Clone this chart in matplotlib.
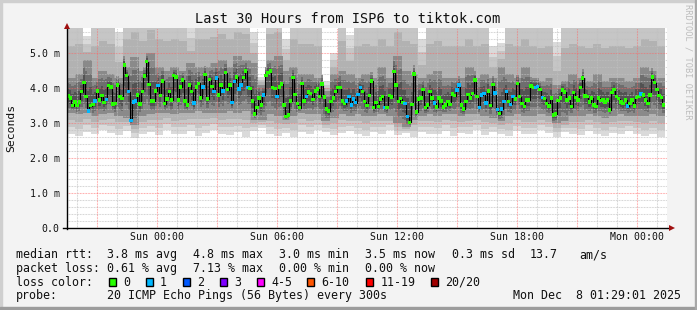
import numpy as np
import matplotlib
matplotlib.use("Agg")
import matplotlib.pyplot as plt
from matplotlib.patches import Rectangle
from matplotlib.lines import Line2D

W, H = 697, 310
MONO = "DejaVu Sans Mono"

# time axis in hours relative to Sun 00:00
x_left, x_right = -4.485, 25.515
data_end = 25.40  # last sample before Mon 01:29

# median rtt (ms), left to right
med_a = [3.77, 3.72, 3.50, 3.60, 3.50, 3.60, 3.90, 4.15, 3.75, 3.34,
         3.50, 3.53, 3.63, 3.91, 3.66, 3.78, 3.58, 3.67, 4.07, 4.03,
         3.54, 3.55, 4.09, 3.75, 3.70, 4.66, 4.35, 3.90, 3.07, 3.60]
med_b = [3.63, 3.80, 3.54, 3.90, 4.34, 4.75, 4.10, 3.63, 3.63, 3.91,
         4.07, 3.78, 4.20, 3.55, 3.69, 3.90, 3.66, 4.35, 4.31, 3.66,
         4.03, 4.23, 3.63, 3.51, 4.09, 3.90, 3.57, 4.03, 4.13, 3.72,
         4.03, 4.39, 3.69, 4.24]
med_c = [4.04, 3.90, 4.28, 3.80, 4.09, 3.91, 4.44, 3.95, 4.09, 3.58,
         4.18, 4.31, 3.97, 4.09, 4.30, 4.49, 4.01, 3.99, 3.63, 3.26,
         3.44, 3.72, 3.51, 3.80, 4.35, 4.45, 4.49, 4.01, 3.99, 3.75,
         4.03, 4.12, 3.51, 3.18]
med_d = [3.23, 3.63, 4.30, 3.82, 3.55, 3.44, 4.13, 3.63, 3.76, 3.88,
         3.84, 3.67, 3.91, 3.97, 3.76, 4.12, 3.74, 3.40, 3.34, 3.61,
         3.72, 3.90, 4.01, 4.01, 3.63, 3.55, 3.63, 3.75, 3.51, 3.69,
         3.58, 3.82, 4.01, 3.90]
med_e = [3.61, 3.50, 3.78, 4.20, 3.44, 3.59, 3.47, 3.69, 3.76, 3.44,
         3.44, 3.78, 3.74, 4.47, 4.09, 3.61, 3.70, 3.59, 3.55, 3.18,
         3.02, 3.53, 4.40, 3.32, 3.69, 3.72, 3.96, 3.44, 3.51, 3.90,
         3.72, 3.57, 3.46, 3.72]
med_f = [3.63, 3.46, 3.51, 3.61, 3.53, 3.83, 3.78, 3.94, 4.09, 3.51,
         3.40, 3.61, 3.82, 3.72, 3.85, 4.23, 3.75, 3.44, 3.80, 3.85,
         3.57, 3.91, 3.50, 4.10, 3.86, 3.39, 3.27, 3.40, 3.61, 3.90,
         3.61, 3.53, 3.75, 3.69]
med_g = [4.13, 3.75, 3.56, 3.47, 3.66, 3.66, 4.06, 4.02, 4.02, 4.04,
         3.96, 3.73, 3.70, 3.56, 3.49, 3.71, 3.23, 3.26, 3.64, 3.71,
         3.94, 3.88, 3.66, 3.71, 3.47, 3.87, 3.73, 3.66, 4.02, 4.28,
         3.77, 3.75, 3.60, 3.71, 3.52, 3.47, 3.71, 3.64, 3.66, 3.60,
         3.66, 3.37, 3.87, 3.96, 3.75, 3.70, 3.60, 3.56, 3.66, 3.49,
         3.56, 3.66, 3.49, 3.73, 3.75, 3.83, 3.80, 3.66, 3.56, 3.80,
         4.32, 4.15, 3.96, 3.79, 3.73, 3.52]

# points in each block where 1 of 20 pings was lost
lost1_a = [9, 12, 17, 27, 28, 29]
lost1_b = [0, 10, 26, 30]
lost1_c = [1, 2, 5, 9, 10, 12, 13, 16, 23, 29]
lost1_d = [8, 26, 27, 28, 29, 30, 31, 32]
lost1_e = [9, 18, 19, 31]
lost1_f = [7, 8, 17, 18, 19, 20, 24, 25, 27, 28, 29, 31, 32]
lost1_g = [8, 9, 11, 49, 55]

# smoke (ping spread), 75 columns of 24 minutes
smoke_hi = [7.0, 7.0, 5.5, 7.0, 7.0, 7.0, 5.6, 7.0, 7.0, 7.0,
            7.0, 7.0, 7.0, 7.0, 7.0, 5.8, 7.0, 7.0, 7.0, 7.0,
            7.0, 7.0, 7.0, 5.6, 4.3, 7.0, 7.0, 5.4, 7.0, 7.0,
            7.0, 7.0, 4.2, 5.0, 7.0, 5.5, 7.0, 7.0, 7.0, 7.0,
            7.0, 7.0, 7.0, 7.0, 5.4, 7.0, 7.0, 7.0, 7.0, 7.0,
            7.0, 7.0, 7.0, 5.2, 5.3, 7.0, 7.0, 7.0, 7.0, 7.0,
            7.0, 5.3, 7.0, 7.0, 7.0, 7.0, 7.0, 7.0, 7.0, 7.0,
            7.0, 7.0, 7.0, 7.0, 7.0]
smoke_in_hi = [4.3, 4.4, 4.8, 4.3, 4.5, 4.4, 4.3, 4.6, 4.9, 4.5,
               5.0, 4.6, 4.5, 4.6, 4.5, 4.7, 4.6, 4.6, 4.7, 4.8,
               4.6, 4.9, 4.8, 4.7, 4.1, 4.8, 4.9, 4.5, 4.6, 4.4,
               4.4, 4.3, 3.9, 4.4, 4.5, 4.4, 4.3, 4.4, 4.3, 4.6,
               4.3, 4.9, 4.5, 4.4, 4.3, 4.4, 4.5, 4.3, 4.3, 4.3,
               4.6, 4.3, 4.4, 4.3, 4.6, 4.4, 4.3, 4.6, 4.3, 4.2,
               4.3, 4.1, 4.2, 4.4, 4.3, 4.2, 4.4, 4.2, 4.3, 4.3,
               4.2, 4.3, 4.6, 4.5, 4.3]
smoke_in_lo = [3.30, 3.25, 3.30, 3.20, 3.25, 3.30, 3.20, 3.15, 2.95, 3.20,
               3.25, 3.30, 3.30, 3.25, 3.30, 3.30, 3.35, 3.30, 3.30, 3.30,
               3.35, 3.30, 3.35, 3.10, 3.10, 3.25, 3.20, 3.10, 3.20, 3.30,
               3.25, 3.25, 3.05, 3.15, 3.25, 3.20, 3.25, 3.20, 3.20, 3.25,
               3.20, 3.00, 2.90, 3.10, 3.20, 3.25, 3.20, 3.25, 3.25, 3.20,
               3.25, 3.25, 3.20, 3.15, 3.05, 3.20, 3.25, 3.20, 3.20, 3.25,
               3.20, 3.00, 3.05, 3.20, 3.20, 3.25, 3.20, 3.15, 3.20, 3.25,
               3.20, 3.20, 3.20, 3.25, 3.20]
smoke_lo = [2.70, 2.62, 2.75, 2.68, 2.80, 2.72, 2.66, 2.78, 2.58, 2.70,
            2.74, 2.65, 2.80, 2.70, 2.68, 2.76, 2.62, 2.72, 2.80, 2.70,
            2.66, 2.74, 2.60, 2.78, 2.85, 2.70, 2.64, 2.72, 2.60, 2.75,
            2.70, 2.80, 2.74, 2.66, 2.72, 2.78, 2.68, 2.62, 2.74, 2.70,
            2.80, 2.66, 2.72, 2.60, 2.75, 2.70, 2.68, 2.78, 2.64, 2.72,
            2.70, 2.80, 2.66, 2.74, 2.70, 2.62, 2.76, 2.70, 2.68, 2.80,
            2.72, 2.60, 2.74, 2.70, 2.66, 2.78, 2.70, 2.64, 2.72, 2.68,
            2.76, 2.70, 2.62, 2.68, 2.60]

loss_colors = ["#26ff00", "#00b8ff", "#0059ff", "#7e00ff", "#ff00ff",
               "#ff5500", "#ff0000", "#a10000"]
loss_labels = ["0", "1", "2", "3", "4-5", "6-10", "11-19", "20/20"]

blocks = [(med_a, lost1_a), (med_b, lost1_b), (med_c, lost1_c), (med_d, lost1_d),
          (med_e, lost1_e), (med_f, lost1_f), (med_g, lost1_g)]
median = []
lost = []
for vals, idx in blocks:
    lost += [1 if i in idx else 0 for i in range(len(vals))]
    median += vals
median = np.array(median)
n = len(median)
step = (data_end - x_left) / n
t = x_left + (np.arange(n) + 0.5) * step


def fx(x):
    return x / W


def fy(y):
    return 1 - y / H


fig = plt.figure(figsize=(W / 100, H / 100), dpi=100, facecolor="#f3f3f3")
ax = fig.add_axes([fx(67), fy(228), 600 / W, 200 / H])
ax.set_facecolor("white")
ax.set_xlim(x_left, x_right)
ax.set_ylim(0, 200 / 35)
for s in ax.spines.values():
    s.set_visible(False)

# smoke: outer layers per 24 min column
ncol = len(smoke_hi)
edges = np.linspace(x_left, data_end, ncol + 1)
lo, ilo = np.array(smoke_lo), np.array(smoke_in_lo)
ihi, hi = np.array(smoke_in_hi), np.array(smoke_hi)
outer = ["#dadada", "#c6c6c6", "#b2b2b2", "#9f9f9f"]
for k, c in enumerate(outer):
    f = k / (len(outer) - 1)
    bot = lo + (ilo - lo) * f
    top = hi + (ihi - hi) * f
    ax.bar(edges[:-1], top - bot, bottom=bot, width=np.diff(edges), align="edge",
           color=c, linewidth=0, zorder=1)

# smoke: inner layers per sample, closing in on the median
col = np.minimum(((t - x_left) / (data_end - x_left) * ncol).astype(int), ncol - 1)
inner = ["#8a8a8a", "#6e6e6e", "#525252"]
upper = np.maximum(ihi[col], median + 0.25)
for k, c in enumerate(inner):
    g = k * 0.3
    bot = ilo[col] + (median - ilo[col]) * g
    top = upper + (median - upper) * g
    ax.bar(t - step / 2, top - bot, bottom=bot, width=step, align="edge",
           color=c, linewidth=0, zorder=1)

# grid
for v in np.arange(0.2, 5.75, 0.2):
    major = abs(v - round(v)) < 1e-6
    ax.axhline(v, color="#ff6464" if major else "#c0c0c0", alpha=0.65 if major else 0.8,
               lw=0.75, dashes=(0.75, 0.75), zorder=3)
for h in range(-4, 26):
    ax.axvline(h, color="#ff6464" if h % 3 == 0 else "#c0c0c0",
               alpha=0.65 if h % 3 == 0 else 0.8, lw=0.75, dashes=(0.75, 0.75), zorder=3)

# median
ax.step(t, median, where="mid", color="black", lw=0.8, zorder=4)
ax.scatter(t, median, marker="s", s=6, c=[loss_colors[l] for l in lost],
           linewidths=0, zorder=5)

ax.set_xticks([0, 6, 12, 18, 24],
              labels=["Sun 00:00", "Sun 06:00", "Sun 12:00", "Sun 18:00", "Mon 00:00"])
ax.set_yticks(range(6), labels=["0.0", "1.0 m", "2.0 m", "3.0 m", "4.0 m", "5.0 m"])
ax.tick_params(axis="x", length=0, pad=3.0, labelsize=7.1, labelcolor="#111111")
ax.tick_params(axis="y", length=0, pad=5.2, labelsize=7.1, labelcolor="#111111")
for lab in ax.get_xticklabels() + ax.get_yticklabels():
    lab.set_family(MONO)

# axes lines and arrows
fig.add_artist(Line2D([fx(67), fx(67)], [fy(229), fy(27)], color="black", lw=1,
                      transform=fig.transFigure))
fig.add_artist(Line2D([fx(63), fx(670)], [fy(228), fy(228)], color="black", lw=1,
                      transform=fig.transFigure))
fig.add_artist(Line2D([fx(67)], [fy(25.5)], marker="^", color="#a01010", markersize=4.5,
                      markeredgewidth=0, transform=fig.transFigure))
fig.add_artist(Line2D([fx(671.5)], [fy(228)], marker=">", color="#a01010", markersize=4.5,
                      markeredgewidth=0, transform=fig.transFigure))

# frame
fig.add_artist(Rectangle((0, fy(2)), 1, 2 / H, color="#cfcfcf", transform=fig.transFigure))
fig.add_artist(Rectangle((0, 0), 2 / W, 1, color="#cfcfcf", transform=fig.transFigure))
fig.add_artist(Rectangle((0, 0), 1, 3 / H, color="#9c9c9c", transform=fig.transFigure))
fig.add_artist(Rectangle((fx(695), 0), 2 / W, 1, color="#a8a8a8", transform=fig.transFigure))

# texts
fig.text(fx(347.5), fy(19), "Last 30 Hours from ISP6 to tiktok.com", ha="center", va="center",
         family=MONO, size=9.8, color="#111111")
fig.text(fx(11), fy(128), "Seconds", rotation=90, ha="center", va="center",
         family=MONO, size=8.2, color="#111111")
fig.text(fx(688), fy(4), "RRDTOOL / TOBI OETIKER", rotation=270, ha="center", va="top",
         family=MONO, size=6.2, color="#bdbdbd")

tk = dict(family=MONO, size=8.4, color="#111111", va="center", ha="left")
cols = [107, 193, 279, 365, 451.7]
fig.text(fx(16), fy(254.7), "median rtt:", **tk)
for x, s in zip(cols, ["3.8 ms avg", "4.8 ms max", "3.0 ms min", "3.5 ms now", "0.3 ms sd"]):
    fig.text(fx(x), fy(254.7), s, **tk)
fig.text(fx(530), fy(254.7), "13.7", **tk)
fig.text(fx(579), fy(254.7), "am/s", **tk)

fig.text(fx(16), fy(268.3), "packet loss:", **tk)
for x, s in zip(cols, ["0.61 % avg", "7.13 % max", "0.00 % min", "0.00 % now"]):
    fig.text(fx(x), fy(268.3), s, **tk)

fig.text(fx(16), fy(282.3), "loss color:", **tk)
sq_x = [108.5, 145.5, 183, 219.5, 257, 307, 366, 431]
for x, c, lab in zip(sq_x, loss_colors, loss_labels):
    fig.add_artist(Rectangle((fx(x), fy(286.3)), 7 / W, 8 / H, facecolor=c, edgecolor="black",
                             lw=1, transform=fig.transFigure))
    fig.text(fx(x + 14.5), fy(282.3), lab, **tk)

fig.text(fx(16), fy(295.7), "probe:", **tk)
fig.text(fx(107), fy(295.7), "20 ICMP Echo Pings (56 Bytes) every 300s", **tk)
fig.text(fx(512.7), fy(295.7), "Mon Dec  8 01:29:01 2025", **tk)

fig.savefig("out.png", dpi=100, facecolor=fig.get_facecolor())
